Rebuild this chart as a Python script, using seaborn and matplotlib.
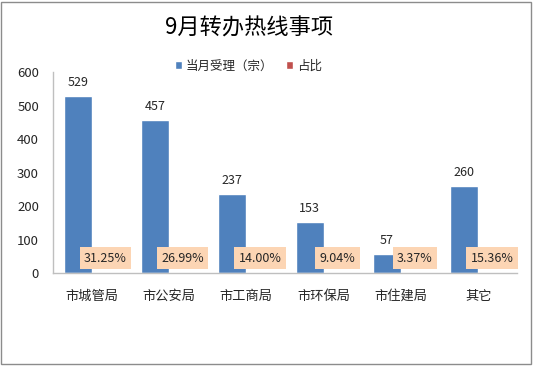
import matplotlib
matplotlib.use("Agg")
import matplotlib.pyplot as plt
import seaborn as sns
import pandas as pd

# chart data
departments = ["市城管局", "市公安局", "市工商局", "市环保局", "市住建局", "其它"]
counts = [529, 457, 237, 153, 57, 260]
shares = [0.3125, 0.2699, 0.1400, 0.0904, 0.0337, 0.1536]
series_names = ["当月受理（宗）", "占比"]
title = "9月转办热线事项"

sns.set_theme(style="white")
plt.rcParams["font.family"] = ["Noto Sans CJK SC", "DejaVu Sans"]

df = pd.DataFrame({
    "部门": departments * 2,
    "数值": counts + shares,
    "系列": [series_names[0]] * len(departments) + [series_names[1]] * len(departments),
})

fig = plt.figure(figsize=(5.34, 3.66), dpi=100)
ax = fig.add_axes([0.099, 0.254, 0.869, 0.549])

sns.barplot(data=df, x="部门", y="数值", hue="系列", palette=["#4F81BD", "#C0504D"],
            width=0.72, saturation=1, ax=ax, legend=True)

# value labels on the count bars
ax.bar_label(ax.containers[0], labels=[str(v) for v in counts], padding=5,
             fontsize=9, color="#262626")
# percentage labels on the share bars
pct = ax.bar_label(ax.containers[1], labels=[f"{s * 100:.2f}%" for s in shares],
                   padding=6, fontsize=9, color="#262626")
for t in pct:
    t.set_bbox(dict(boxstyle="square,pad=0.35", facecolor="#FCD5B4", edgecolor="none"))

ax.set_ylim(0, 600)
ax.set_yticks(range(0, 601, 100))
ax.set_xlim(-0.5, len(departments) - 0.5)
ax.set_xlabel("")
ax.set_ylabel("")
sns.despine(ax=ax)
for side in ["left", "bottom"]:
    ax.spines[side].set_color("#BFBFBF")
    ax.spines[side].set_linewidth(1)
ax.tick_params(axis="y", length=0, pad=10, labelsize=9.5, labelcolor="#262626")
ax.tick_params(axis="x", length=0, pad=12, labelsize=9.5, labelcolor="#262626")

leg = ax.legend(loc="center", bbox_to_anchor=(0.465, 0.82), bbox_transform=fig.transFigure,
                ncol=2, frameon=False, fontsize=9, handlelength=0.6, handleheight=0.6,
                handletextpad=0.3, columnspacing=1.0)

fig.text(0.467, 0.923, title, ha="center", va="center", fontsize=16, fontweight="medium",
         color="#000000")

fig.add_artist(plt.Rectangle((0.002, 0.005), 0.992, 0.99, transform=fig.transFigure,
                             fill=False, edgecolor="#8C8C8C", linewidth=1))

fig.savefig("out.png", dpi=100)
